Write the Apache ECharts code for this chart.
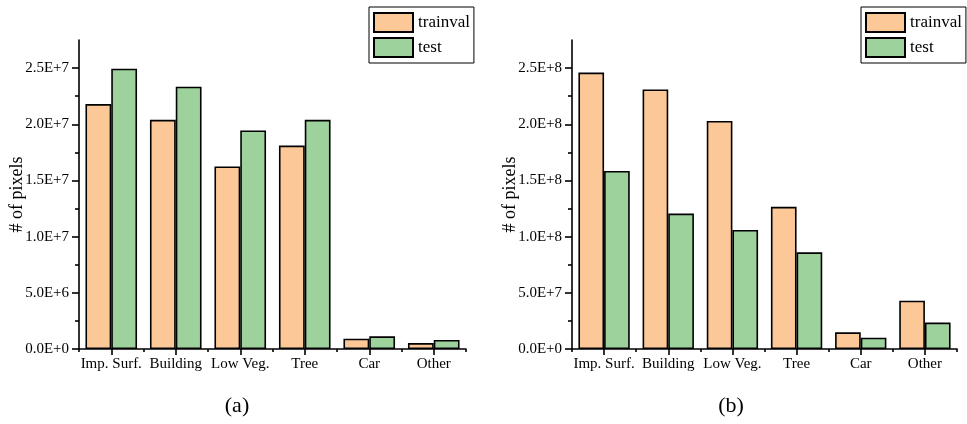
<!DOCTYPE html>
<html>
<head>
<meta charset="utf-8">
<script src="https://cdn.jsdelivr.net/npm/echarts@6/dist/echarts.min.js"></script>
<style>html,body{margin:0;padding:0;background:#fff}#c{width:967px;height:424px}</style>
</head>
<body>
<div id="c"></div>
<script>
// ---- data ----
var categories = ['Imp. Surf.', 'Building', 'Low Veg.', 'Tree', 'Car', 'Other'];
var seriesNames = ['trainval', 'test'];
var trainvalA = [2.18e7, 2.04e7, 1.625e7, 1.81e7, 9.2e5, 5.3e5];
var testA     = [2.495e7, 2.335e7, 1.945e7, 2.04e7, 1.13e6, 8.0e5];
var trainvalB = [2.46e8, 2.31e8, 2.03e8, 1.265e8, 1.48e7, 4.3e7];
var testB     = [1.585e8, 1.205e8, 1.06e8, 8.6e7, 1.0e7, 2.35e7];
var yTicksA  = [0, 5e6, 1e7, 1.5e7, 2e7, 2.5e7];
var yLabelsA = ['0.0E+0', '5.0E+6', '1.0E+7', '1.5E+7', '2.0E+7', '2.5E+7'];
var yMinorA  = [2.5e6, 7.5e6, 1.25e7, 1.75e7, 2.25e7];
var yMaxA = 2.75e7;
var yTicksB  = [0, 5e7, 1e8, 1.5e8, 2e8, 2.5e8];
var yLabelsB = ['0.0E+0', '5.0E+7', '1.0E+8', '1.5E+8', '2.0E+8', '2.5E+8'];
var yMinorB  = [2.5e7, 7.5e7, 1.25e8, 1.75e8, 2.25e8];
var yMaxB = 2.75e8;
var yTitle = '# of pixels';
var captions = ['(a)', '(b)'];

// ---- style ----
var FONT = "'Liberation Serif','Times New Roman',serif";
var colors = ['#FDC897', '#9ED29C'];
var lineW = 1.6;

function xMain(grid) {
  return {
    type: 'category', gridIndex: grid, data: categories, position: 'bottom',
    axisLine: { show: true, lineStyle: { color: '#000', width: lineW } },
    axisTick: { show: true, alignWithLabel: true, interval: 0, length: 6, lineStyle: { color: '#000', width: lineW } },
    axisLabel: { interval: 0, color: '#000', fontFamily: FONT, fontSize: 15, margin: 8 },
    splitLine: { show: false }
  };
}
function xMinor(grid) {
  return {
    type: 'category', gridIndex: grid, data: categories, position: 'bottom',
    axisLine: { show: false },
    axisTick: { show: true, alignWithLabel: false, interval: 0, length: 3, lineStyle: { color: '#000', width: lineW } },
    axisLabel: { show: false },
    splitLine: { show: false }
  };
}
function yMain(grid, max, ticks, labels) {
  return {
    type: 'value', gridIndex: grid, min: 0, max: max, position: 'left',
    name: yTitle, nameLocation: 'middle', nameGap: 53, nameMoveOverlap: false,
    nameTextStyle: { color: '#000', fontFamily: FONT, fontSize: 18 },
    axisLine: { show: true, lineStyle: { color: '#000', width: lineW } },
    axisTick: { show: true, length: 7, customValues: ticks, lineStyle: { color: '#000', width: lineW } },
    axisLabel: {
      customValues: ticks, color: '#000', fontFamily: FONT, fontSize: 15, margin: 10,
      formatter: function (v) { var i = ticks.indexOf(v); return i >= 0 ? labels[i] : ''; }
    },
    splitLine: { show: false }
  };
}
function yMinorAxis(grid, max, minor) {
  return {
    type: 'value', gridIndex: grid, min: 0, max: max, position: 'left',
    axisLine: { show: false },
    axisTick: { show: true, length: 4, customValues: minor, lineStyle: { color: '#000', width: lineW } },
    axisLabel: { show: false },
    splitLine: { show: false }
  };
}
function bar(name, data, xi, yi, ci) {
  return {
    type: 'bar', name: name, data: data, xAxisIndex: xi, yAxisIndex: yi,
    barCategoryGap: '20%', barGap: '0%',
    itemStyle: { color: colors[ci], borderColor: '#000', borderWidth: lineW },
    emphasis: { disabled: true }
  };
}
function legend(left) {
  return {
    data: seriesNames, orient: 'vertical', left: left, top: 7,
    padding: [5, 4, 5, 4], itemWidth: 39, itemHeight: 19, itemGap: 4,
    icon: 'rect', borderColor: '#000', borderWidth: 1, backgroundColor: '#fff',
    textStyle: { color: '#000', fontFamily: FONT, fontSize: 17 },
    selectedMode: false
  };
}

var chart = echarts.init(document.getElementById('c'), null, { renderer: 'canvas' });
chart.setOption({
  animation: false,
  backgroundColor: '#fff',
  grid: [
    { left: 79, top: 40, width: 387, height: 309 },
    { left: 572, top: 40, width: 385, height: 309 }
  ],
  xAxis: [xMain(0), xMinor(0), xMain(1), xMinor(1)],
  yAxis: [
    yMain(0, yMaxA, yTicksA, yLabelsA), yMinorAxis(0, yMaxA, yMinorA),
    yMain(1, yMaxB, yTicksB, yLabelsB), yMinorAxis(1, yMaxB, yMinorB)
  ],
  legend: [legend(369), legend(861)],
  series: [
    bar(seriesNames[0], trainvalA, 0, 0, 0),
    bar(seriesNames[1], testA, 0, 0, 1),
    bar(seriesNames[0], trainvalB, 2, 2, 0),
    bar(seriesNames[1], testB, 2, 2, 1)
  ],
  graphic: [
    { type: 'text', x: 237, y: 406, style: { text: captions[0], fill: '#000', font: '22px ' + FONT, textAlign: 'center', textVerticalAlign: 'middle' } },
    { type: 'text', x: 731, y: 406, style: { text: captions[1], fill: '#000', font: '22px ' + FONT, textAlign: 'center', textVerticalAlign: 'middle' } }
  ]
});
</script>
</body>
</html>
